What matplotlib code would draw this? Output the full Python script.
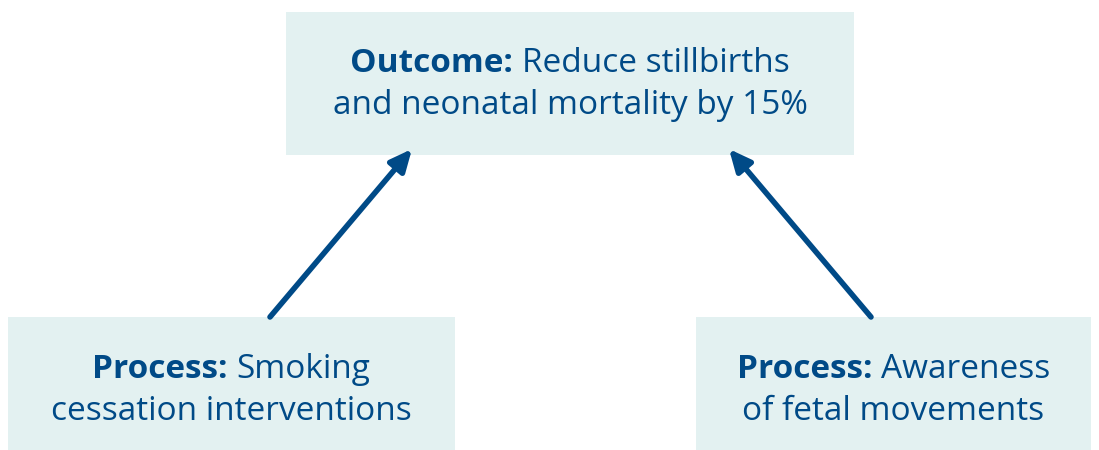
import matplotlib
matplotlib.use("Agg")
import matplotlib.pyplot as plt
from matplotlib.patches import Rectangle

# boxes: (x, y, w, h) in pixels, y downwards
box_labels = ["Outcome:", "Process:", "Process:"]
box_lines = [
    ["Reduce stillbirths", "and neonatal mortality by 15%"],
    ["Smoking", "cessation interventions"],
    ["Awareness", "of fetal movements"],
]
boxes = [(286, 12, 568, 143), (8, 317, 447, 133), (696, 317, 395, 133)]
text_y = [(64, 105), (370, 411), (370, 411)]
arrows = [((270, 317), (412, 149)), ((871, 317), (729, 149))]

blue = "#004a87"
fill = "#e3f1f1"
fs = 24
fam = ["Open Sans", "DejaVu Sans"]

fig = plt.figure(figsize=(10.99, 4.5), dpi=100)
ax = fig.add_axes([0, 0, 1, 1])
ax.set_xlim(0, 1099)
ax.set_ylim(450, 0)
ax.axis("off")

for (x, y, w, h) in boxes:
    ax.add_patch(Rectangle((x, y), w, h, facecolor=fill, edgecolor="none"))

for (x0, y0), (x1, y1) in arrows:
    ax.annotate("", xy=(x1, y1), xytext=(x0, y0),
                arrowprops=dict(arrowstyle="-|>,head_length=1.3,head_width=0.6",
                                color=blue, lw=4, shrinkA=0, shrinkB=0))

fig.canvas.draw()
r = fig.canvas.get_renderer()


def width(t):
    bb = t.get_window_extent(renderer=r)
    return bb.width


for (x, y, w, h), (y1, y2), lab, lines in zip(boxes, text_y, box_labels, box_lines):
    cx = x + w / 2
    tb = ax.text(0, y1, lab + " ", fontsize=fs, color=blue, fontweight="bold",
                 family=fam, va="center", ha="left")
    tr = ax.text(0, y1, lines[0], fontsize=fs, color=blue, family=fam,
                 va="center", ha="left")
    wb = width(tb)
    wr = width(tr)
    start = cx - (wb + wr) / 2
    tb.set_x(start)
    tr.set_x(start + wb)
    ax.text(cx, y2, lines[1], fontsize=fs, color=blue, family=fam,
            va="center", ha="center")

fig.savefig("out.png", dpi=100)
